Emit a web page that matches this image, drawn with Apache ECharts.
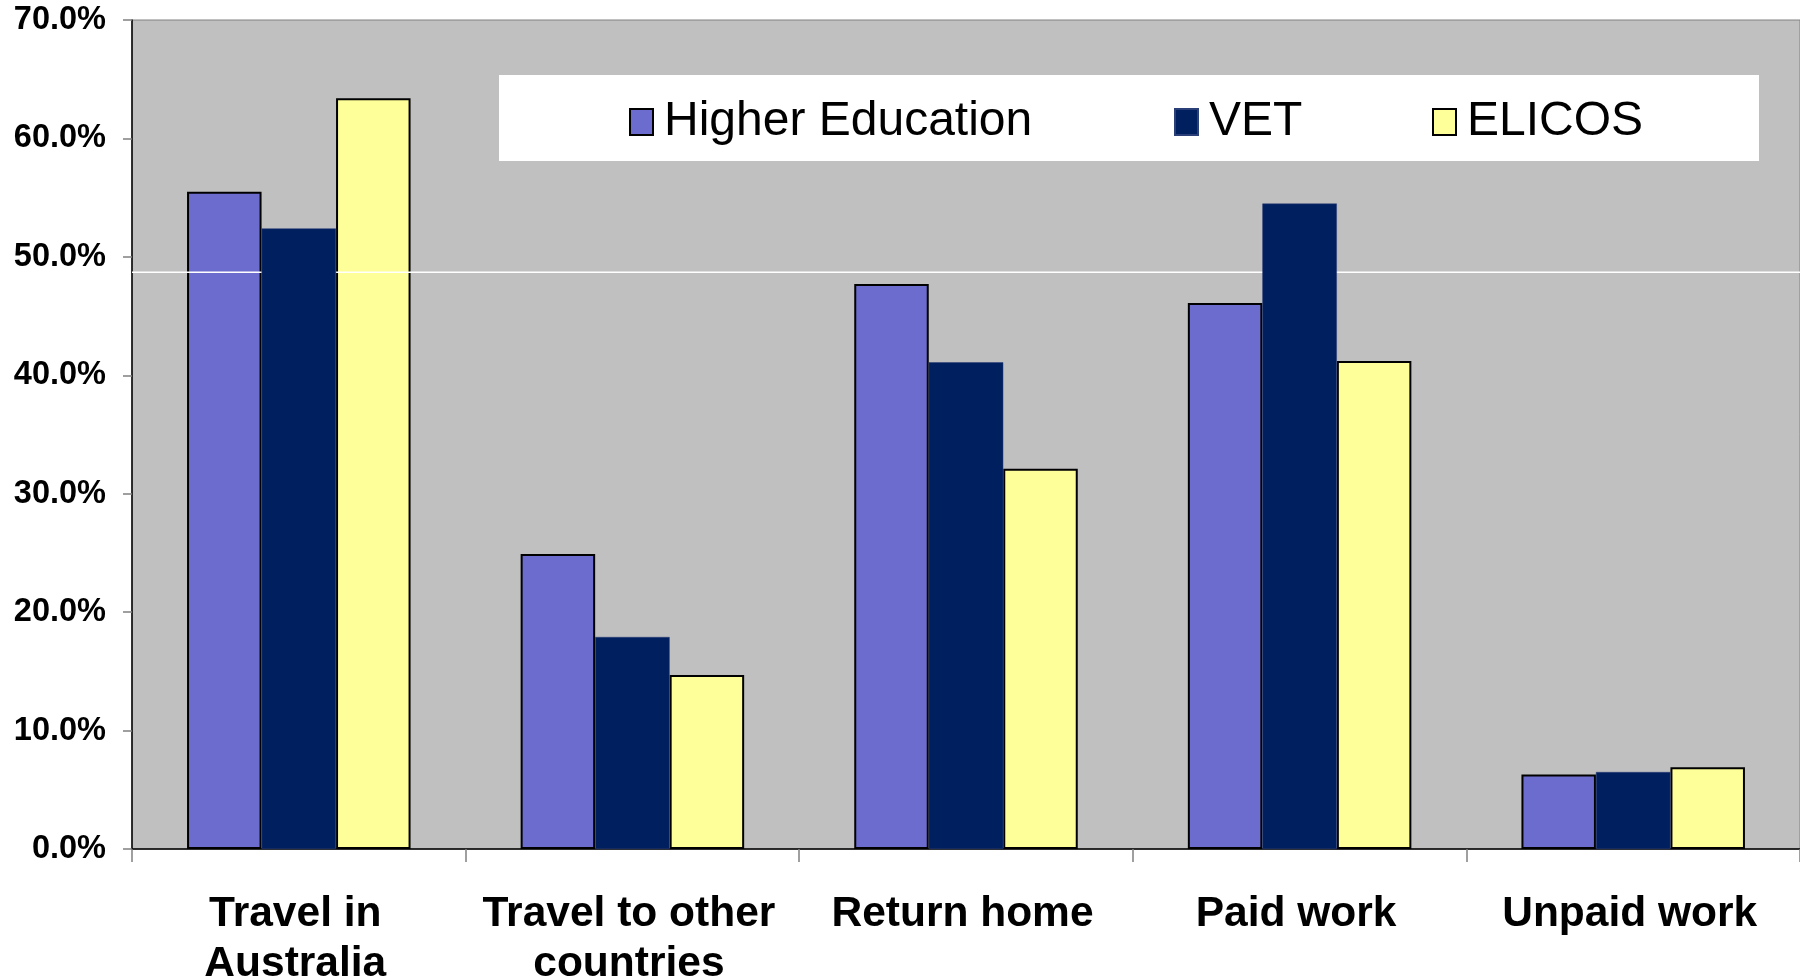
<!DOCTYPE html>
<html>
<head>
<meta charset="utf-8">
<script src="https://cdn.jsdelivr.net/npm/echarts@6/dist/echarts.min.js"></script>
<style>
html,body{margin:0;padding:0;background:#fff;}
#chart{width:1800px;height:979px;}
</style>
</head>
<body>
<div id="chart"></div>
<script>
const categories = ['Travel in\nAustralia', 'Travel to other\ncountries', 'Return home', 'Paid work', 'Unpaid work'];
const seriesNames = ['Higher Education', 'VET', 'ELICOS'];
const higherEducation = [55.5, 24.9, 47.7, 46.1, 6.3];
const vet = [52.4, 17.9, 41.1, 54.5, 6.5];
const elicos = [63.4, 14.7, 32.1, 41.2, 6.9];
const stripeValue = 48.7;
const yMin = 0, yMax = 70, yInterval = 10;

const FONT = '"Liberation Sans", Arial, sans-serif';
const chart = echarts.init(document.getElementById('chart'));

const legendLefts = [629, 1174, 1432];
function makeLegend(name, left) {
  return {
    data: [name],
    left: left, top: 98, padding: 0,
    itemWidth: 23, itemHeight: 26,
    icon: 'rect',
    textStyle: { fontFamily: FONT, fontSize: 48, color: '#000', lineHeight: 48, padding: [0, 0, 0, 6] },
    z: 5
  };
}

chart.setOption({
  animation: false,
  backgroundColor: '#ffffff',
  grid: {
    left: 132, right: 0, top: 20, bottom: 130,
    outerBoundsMode: 'none', containLabel: false,
    show: true, backgroundColor: '#c0c0c0', borderColor: '#808080', borderWidth: 1
  },
  graphic: [{
    type: 'rect', left: 499, top: 75, z: 1,
    shape: { width: 1260, height: 86 },
    style: { fill: '#ffffff' }
  }],
  legend: seriesNames.map((n, i) => makeLegend(n, legendLefts[i])),
  xAxis: [{
    type: 'category',
    data: categories,
    boundaryGap: true,
    axisLine: { lineStyle: { color: '#000', width: 1.5 } },
    axisTick: { show: true, length: 13, lineStyle: { color: '#808080', width: 1.5 } },
    axisLabel: {
      interval: 0, margin: 40, color: '#000', fontFamily: FONT, fontWeight: 'bold',
      fontSize: 42.5, lineHeight: 50, verticalAlign: 'top', padding: [0, 7, 0, 0]
    },
    splitLine: { show: false }
  }, {
    type: 'value', min: 0, max: 1, show: false
  }],
  yAxis: {
    type: 'value',
    min: yMin, max: yMax, interval: yInterval,
    axisLine: { show: true, lineStyle: { color: '#000', width: 1.5 } },
    axisTick: { show: true, length: 9, lineStyle: { color: '#808080', width: 1.5 } },
    axisLabel: {
      margin: 26, color: '#000', fontFamily: FONT, fontWeight: 'bold', fontSize: 32.5,
      formatter: v => v.toFixed(1) + '%'
    },
    splitLine: { show: false }
  },
  series: [
    {
      name: seriesNames[0], type: 'bar', data: higherEducation, z: 2,
      barGap: '0%', barCategoryGap: '33%',
      itemStyle: { color: '#6c6cce', borderColor: '#000', borderWidth: 2 }
    },
    {
      name: seriesNames[1], type: 'bar', data: vet, z: 4,
      barGap: '0%', barCategoryGap: '33%',
      itemStyle: { color: '#001f5f', borderColor: '#2a3f78', borderWidth: 0.5 }
    },
    {
      name: seriesNames[2], type: 'bar', data: elicos, z: 2,
      barGap: '0%', barCategoryGap: '33%',
      itemStyle: { color: '#ffff99', borderColor: '#000', borderWidth: 2 }
    },
    {
      name: 'stripe', type: 'line', xAxisIndex: 1, z: 3, silent: true,
      data: [[0, stripeValue], [1, stripeValue]],
      symbol: 'none', lineStyle: { color: '#ffffff', width: 1.5 }
    }
  ]
});
</script>
</body>
</html>
